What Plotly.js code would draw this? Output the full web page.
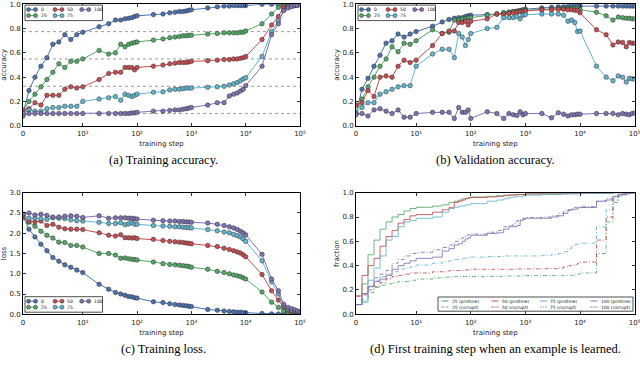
<!DOCTYPE html>
<html><head><meta charset="utf-8">
<script src="https://cdn.plot.ly/plotly-3.0.1.min.js"></script>
<style>html,body{margin:0;padding:0;background:#fff}#chart{width:640px;height:368px}</style>
</head><body><div id="chart"></div>
<script>
// ---------- data ----------
const steps = [0,1,2,3,4,5,6,7,8,9,10,20,30,40,50,60,70,80,90,100,200,300,400,500,600,700,800,900,1000,2000,3000,4000,5000,6000,7000,8000,9000,10000,20000,30000,40000,50000,60000,70000,80000,90000,100000];
const seriesNames = ['0','25','50','75','100'];
const seriesColors = ['#4C72B0','#55A868','#C44E52','#64B5CD','#8172B2'];

// (a) training accuracy
const trainAcc0   = [0.10,0.29,0.40,0.49,0.56,0.67,0.69,0.75,0.71,0.75,0.77, 0.815,0.84,0.87,0.87,0.88,0.885,0.89,0.90,0.905, 0.915,0.92,0.93,0.935,0.94,0.94,0.945,0.95,0.955, 0.97,0.98,0.985,0.985,0.99,0.99,0.99,0.99,0.99, 1.0,1.0,1.0,1.0,1.0,1.0,1.0,1.0,1.0];
const trainAcc25  = [0.12,0.20,0.26,0.32,0.38,0.44,0.51,0.48,0.53,0.53,0.55, 0.62,0.59,0.60,0.67,0.65,0.67,0.68,0.685,0.69, 0.705,0.715,0.725,0.73,0.735,0.74,0.74,0.745,0.745, 0.755,0.76,0.765,0.765,0.765,0.765,0.77,0.77,0.78, 0.84,0.92,0.975,0.985,0.99,0.99,0.995,0.995,1.0];
const trainAcc50  = [0.13,0.14,0.19,0.17,0.25,0.25,0.25,0.30,0.32,0.31,0.32, 0.38,0.43,0.44,0.44,0.48,0.48,0.48,0.46,0.48, 0.49,0.50,0.51,0.515,0.52,0.52,0.52,0.525,0.53, 0.535,0.54,0.545,0.545,0.55,0.55,0.555,0.56,0.57, 0.71,0.83,0.90,0.975,0.98,0.99,0.99,1.0,1.0];
const trainAcc75  = [0.10,0.13,0.12,0.12,0.14,0.15,0.15,0.16,0.16,0.16,0.20, 0.22,0.23,0.24,0.21,0.26,0.25,0.24,0.25,0.26, 0.275,0.28,0.295,0.30,0.30,0.305,0.31,0.31,0.31, 0.316,0.32,0.325,0.335,0.345,0.355,0.37,0.385,0.395, 0.57,0.775,0.865,0.95,0.98,0.99,0.99,1.0,1.0];
const trainAcc100 = [0.08,0.10,0.10,0.10,0.10,0.10,0.10,0.10,0.10,0.10,0.10, 0.10,0.10,0.10,0.10,0.10,0.10,0.105,0.105,0.11, 0.12,0.12,0.125,0.13,0.13,0.135,0.14,0.145,0.15, 0.17,0.19,0.19,0.245,0.26,0.27,0.285,0.30,0.33, 0.49,0.75,0.84,0.95,0.97,0.98,0.99,0.99,1.0];
const cleanAccLevels = [0.775,0.55,0.325,0.1];

// (b) validation accuracy
const valAcc0   = [0.10,0.30,0.39,0.49,0.58,0.68,0.70,0.755,0.73,0.755,0.775, 0.82,0.855,0.875,0.885,0.89,0.89,0.90,0.905,0.91, 0.915,0.92,0.93,0.935,0.94,0.945,0.95,0.955,0.96, 0.97,0.975,0.98,0.98,0.985,0.985,0.985,0.985,0.985, 0.985,0.985,0.985,0.985,0.985,0.985,0.985,0.985,0.985];
const valAcc25  = [0.10,0.22,0.32,0.40,0.49,0.55,0.65,0.61,0.68,0.67,0.70, 0.79,0.76,0.77,0.87,0.87,0.88,0.88,0.89,0.89, 0.91,0.92,0.93,0.935,0.94,0.94,0.945,0.95,0.95, 0.96,0.96,0.965,0.965,0.965,0.965,0.965,0.965,0.955, 0.935,0.905,0.87,0.895,0.89,0.885,0.885,0.88,0.88];
const valAcc50  = [0.17,0.19,0.29,0.24,0.40,0.41,0.40,0.49,0.54,0.52,0.54, 0.66,0.76,0.78,0.78,0.85,0.85,0.86,0.83,0.86, 0.88,0.92,0.915,0.925,0.93,0.935,0.94,0.94,0.945, 0.955,0.955,0.96,0.96,0.955,0.955,0.95,0.95,0.93, 0.79,0.75,0.665,0.69,0.685,0.65,0.685,0.68,0.68];
const valAcc75  = [0.10,0.15,0.19,0.19,0.26,0.28,0.30,0.32,0.33,0.33,0.49, 0.59,0.63,0.63,0.56,0.76,0.73,0.66,0.71,0.76, 0.80,0.81,0.89,0.89,0.89,0.90,0.88,0.91,0.915, 0.92,0.92,0.92,0.91,0.86,0.87,0.85,0.775,0.78, 0.49,0.40,0.37,0.41,0.40,0.36,0.39,0.385,0.385];
const valAcc100 = [0.09,0.10,0.08,0.13,0.14,0.12,0.10,0.13,0.07,0.07,0.10, 0.11,0.11,0.11,0.06,0.15,0.11,0.11,0.13,0.06, 0.115,0.10,0.06,0.10,0.09,0.085,0.115,0.09,0.10, 0.10,0.065,0.107,0.095,0.08,0.09,0.09,0.095,0.095, 0.10,0.10,0.10,0.09,0.10,0.095,0.09,0.10,0.105];

// (c) training loss
const loss0   = [2.42,2.10,1.91,1.73,1.57,1.40,1.31,1.22,1.16,1.09,1.03, 0.74,0.62,0.54,0.50,0.47,0.44,0.43,0.41,0.40, 0.31,0.29,0.26,0.24,0.23,0.22,0.21,0.20,0.19, 0.12,0.10,0.08,0.07,0.06,0.05,0.05,0.04,0.04, 0.02,0.01,0.01,0.01,0.01,0.01,0.01,0.01,0.01];
const loss25  = [2.40,2.27,2.17,2.05,1.95,1.88,1.78,1.77,1.70,1.70,1.66, 1.50,1.50,1.46,1.38,1.39,1.37,1.36,1.35,1.34, 1.29,1.25,1.23,1.22,1.21,1.20,1.19,1.18,1.16, 1.11,1.06,1.03,1.00,0.97,0.95,0.93,0.90,0.87, 0.55,0.30,0.17,0.08,0.05,0.04,0.03,0.03,0.02];
const loss50  = [2.38,2.30,2.28,2.30,2.19,2.22,2.15,2.11,2.10,2.10,2.09, 2.01,1.95,1.93,1.96,1.89,1.89,1.88,1.89,1.87, 1.85,1.82,1.80,1.79,1.78,1.77,1.76,1.75,1.74, 1.70,1.67,1.63,1.60,1.57,1.54,1.51,1.47,1.42, 0.98,0.58,0.35,0.18,0.10,0.08,0.06,0.05,0.04];
const loss75  = [2.45,2.37,2.37,2.36,2.34,2.38,2.37,2.36,2.33,2.31,2.30, 2.27,2.24,2.24,2.26,2.21,2.23,2.26,2.22,2.22, 2.19,2.18,2.17,2.16,2.16,2.15,2.14,2.14,2.13, 2.09,2.06,2.03,2.01,1.97,1.94,1.91,1.86,1.80, 1.32,0.80,0.50,0.22,0.13,0.10,0.08,0.07,0.06];
const loss100 = [2.47,2.50,2.45,2.47,2.44,2.40,2.40,2.42,2.43,2.42,2.39, 2.43,2.37,2.38,2.38,2.38,2.37,2.37,2.36,2.35, 2.32,2.31,2.30,2.30,2.29,2.29,2.28,2.28,2.27, 2.25,2.22,2.19,2.16,2.13,2.09,2.05,2.01,1.96, 1.48,0.87,0.58,0.25,0.17,0.14,0.11,0.08,0.06];

// (d) fraction of examples learned by step
const fracNames = ['25','50','75','100'];
const fracColors = ['#55A868','#C44E52','#64B5CD','#8172B2'];
const frac25Pristine  = [0.08,0.25,0.49,0.61,0.70,0.76,0.80,0.82,0.85,0.87,0.88, 0.89,0.90,0.92,0.93,0.94,0.95,0.955,0.96,0.965, 0.97,0.975,0.98,0.98,0.985,0.985,0.985,0.985,0.99, 0.99,0.99,0.99,0.99,0.995,0.995,0.995,0.995,0.995, 0.995,0.995,1.0,1.0,1.0,1.0,1.0,1.0,1.0];
const frac50Pristine  = [0.15,0.32,0.40,0.46,0.56,0.64,0.69,0.75,0.78,0.81,0.82, 0.84,0.86,0.88,0.92,0.93,0.94,0.95,0.955,0.96, 0.965,0.97,0.975,0.98,0.98,0.985,0.985,0.985,0.99, 0.99,0.99,0.99,0.995,0.995,0.995,0.995,0.995,0.995, 0.995,1.0,1.0,1.0,1.0,1.0,1.0,1.0,1.0];
const frac75Pristine  = [0.08,0.10,0.28,0.38,0.48,0.61,0.64,0.72,0.76,0.77,0.79, 0.80,0.84,0.87,0.88,0.89,0.89,0.90,0.90,0.91, 0.93,0.94,0.95,0.96,0.965,0.97,0.97,0.975,0.98, 0.985,0.985,0.99,0.99,0.99,0.99,0.99,0.99,0.995, 0.995,0.995,1.0,1.0,1.0,1.0,1.0,1.0,1.0];
const frac100Pristine = [0.08,0.17,0.23,0.27,0.29,0.32,0.37,0.40,0.42,0.44,0.46, 0.47,0.52,0.54,0.57,0.58,0.60,0.62,0.63,0.65, 0.665,0.67,0.70,0.72,0.72,0.73,0.77,0.78,0.79, 0.79,0.80,0.81,0.83,0.855,0.86,0.865,0.875,0.878, 0.93,0.94,0.97,0.985,0.99,0.99,0.995,1.0,1.0];
const frac25Corrupt   = [0.08,0.12,0.18,0.22,0.24,0.25,0.26,0.27,0.27,0.28,0.29, 0.30,0.305,0.305,0.31,0.31,0.31,0.31,0.31,0.31, 0.312,0.312,0.315,0.315,0.315,0.315,0.315,0.315,0.318, 0.318,0.318,0.32,0.32,0.32,0.32,0.325,0.33,0.34, 0.50,0.76,0.92,0.97,0.98,0.99,0.99,1.0,1.0];
const frac50Corrupt   = [0.15,0.16,0.20,0.23,0.26,0.29,0.31,0.32,0.33,0.34,0.34, 0.35,0.35,0.36,0.36,0.36,0.36,0.365,0.365,0.37, 0.37,0.37,0.37,0.37,0.37,0.373,0.373,0.373,0.373, 0.375,0.375,0.38,0.39,0.40,0.405,0.41,0.42,0.43, 0.61,0.80,0.94,0.98,0.99,1.0,1.0,1.0,1.0];
const frac75Corrupt   = [0.08,0.10,0.22,0.28,0.31,0.33,0.35,0.37,0.38,0.39,0.405, 0.42,0.43,0.44,0.45,0.45,0.46,0.46,0.47,0.47, 0.475,0.475,0.48,0.48,0.48,0.48,0.48,0.48,0.48, 0.485,0.49,0.50,0.515,0.54,0.56,0.575,0.58,0.585, 0.72,0.86,0.96,0.98,0.99,1.0,1.0,1.0,1.0];
const frac100Corrupt  = [0.08,0.17,0.23,0.30,0.33,0.36,0.42,0.45,0.48,0.50,0.51, 0.53,0.55,0.57,0.60,0.62,0.63,0.65,0.655,0.66, 0.675,0.69,0.72,0.73,0.75,0.77,0.78,0.79,0.795, 0.80,0.81,0.83,0.85,0.86,0.87,0.88,0.88,0.885, 0.93,0.95,0.97,0.98,0.99,1.0,1.0,1.0,1.0];

const xTickSteps = [0,10,100,1000,10000,100000];
const xTickText = ['0','10¹','10²','10³','10⁴','10⁵'];

// ---------- symlog scale (linear 0..10, log above) ----------
const LIN = 1.1;
function symlog(v){ return v <= 10 ? v / 10 * LIN : LIN + Math.log10(v / 10); }
const X = steps.map(symlog);

// ---------- helpers ----------
const W = 640, H = 368;
const fx = p => p / W, fy = p => 1 - p / H;
const FONT = 'DejaVu Sans';

const traces = [];
function addPanel(list, xa, ya) {
  list.forEach((ys, i) => {
    traces.push({
      x: X, y: ys, xaxis: xa, yaxis: ya, type: 'scatter', mode: 'lines+markers',
      showlegend: false, hoverinfo: 'skip',
      line: {color: seriesColors[i], width: 1},
      marker: {color: seriesColors[i], size: 4.5, line: {color: '#2a2a2a', width: 0.5}}
    });
  });
}
addPanel([trainAcc0, trainAcc25, trainAcc50, trainAcc75, trainAcc100], 'x', 'y');
addPanel([valAcc0, valAcc25, valAcc50, valAcc75, valAcc100], 'x2', 'y2');
addPanel([loss0, loss25, loss50, loss75, loss100], 'x3', 'y3');

const pristine = [frac25Pristine, frac50Pristine, frac75Pristine, frac100Pristine];
const corrupt = [frac25Corrupt, frac50Corrupt, frac75Corrupt, frac100Corrupt];
const DASHDOT = '4px,2px,1px,2px';
fracNames.forEach((n, i) => {
  traces.push({x: X, y: pristine[i], xaxis: 'x4', yaxis: 'y4', type: 'scatter', mode: 'lines',
    showlegend: false, hoverinfo: 'skip', opacity: 0.85,
    line: {color: fracColors[i], width: 1, shape: 'hv'}});
  traces.push({x: X, y: corrupt[i], xaxis: 'x4', yaxis: 'y4', type: 'scatter', mode: 'lines',
    showlegend: false, hoverinfo: 'skip', opacity: 0.85,
    line: {color: fracColors[i], width: 1, shape: 'hv', dash: DASHDOT}});
});

// ---------- axes ----------
const axBase = {
  showline: true, linecolor: '#000', linewidth: 1, mirror: 'ticks',
  ticks: 'inside', ticklen: 3, tickwidth: 0.8, tickcolor: '#000',
  showgrid: false, zeroline: false, fixedrange: true,
  ticklabeloverflow: 'allow',
  tickfont: {family: FONT, size: 7, color: '#222'}
};
function xAxis(left, right, anchor) {
  return Object.assign({}, axBase, {
    domain: [fx(left), fx(right)], anchor: anchor,
    range: [0, symlog(100000)], tickmode: 'array',
    tickvals: xTickSteps.map(symlog), ticktext: xTickText,
    ticklabelstandoff: 1,
    title: {text: 'training step', font: {family: FONT, size: 7, color: '#222'}, standoff: 4}
  });
}
function yAxis(top, bottom, anchor, range, dtick, title) {
  return Object.assign({}, axBase, {
    domain: [fy(bottom), fy(top)], anchor: anchor, range: range, dtick: dtick,
    tickformat: '.1f',
    title: {text: title, font: {family: FONT, size: 7, color: '#222'}, standoff: 2}
  });
}

const L1 = 23, R1 = 300, L2 = 356, R2 = 634.7;
const T1 = 4.3, B1 = 125.7, T2 = 192.7, B2 = 314.3;

// ---------- shapes / annotations ----------
const shapes = [];
const annotations = [];
cleanAccLevels.forEach(v => shapes.push({
  type: 'line', xref: 'x domain', yref: 'y', x0: 0, x1: 1, y0: v, y1: v, layer: 'below',
  line: {color: '#9a9a9a', width: 1, dash: '3px,3px'}
}));

function box(l, t, w, h) {
  shapes.push({type: 'rect', xref: 'paper', yref: 'paper', x0: fx(l), x1: fx(l + w), y0: fy(t + h), y1: fy(t),
    fillcolor: '#fff', line: {color: '#222', width: 0.8}, layer: 'above'});
}
function hline(x0, x1, y, color, dash) {
  shapes.push({type: 'line', xref: 'paper', yref: 'paper', x0: fx(x0), x1: fx(x1), y0: fy(y), y1: fy(y),
    line: {color: color, width: 1, dash: dash || 'solid'}, layer: 'above'});
}
function dot(x, y, color) {
  shapes.push({type: 'circle', xref: 'paper', yref: 'paper', xsizemode: 'pixel', ysizemode: 'pixel',
    xanchor: fx(x), yanchor: fy(y), x0: -2, x1: 2, y0: -2, y1: 2,
    fillcolor: color, line: {color: '#2a2a2a', width: 0.5}, layer: 'above'});
}
function label(x, y, text, size) {
  annotations.push({xref: 'paper', yref: 'paper', x: fx(x), y: fy(y), xanchor: 'left', yanchor: 'middle',
    text: text, showarrow: false, borderpad: 0, font: {family: FONT, size: size, color: '#222'}});
}
// marker legends (matplotlib ncol=3 column-major)
function markerLegend(left, top) {
  box(left, top, 77.5, 15.5);
  const colX = [left + 0.5, left + 27, left + 53.7];
  const rowY = [top + 4.5, top + 10.5];
  seriesNames.forEach((n, i) => {
    const cx = colX[Math.floor(i / 2)], cy = rowY[i % 2];
    hline(cx + 3, cx + 10, cy, seriesColors[i]);
    dot(cx + 3, cy, seriesColors[i]);
    dot(cx + 10, cy, seriesColors[i]);
    label(cx + 14, cy, n, 4.6);
  });
}
markerLegend(L1 + 2, T1 + 0.8);
markerLegend(L2 + 2, T1 + 0.8);
markerLegend(L1 + 2, T2 + 104);

// fraction legend
box(438, 297, 195, 14.2);
fracNames.forEach((n, i) => {
  const cx = [441.5, 491.5, 540, 590.5][i];
  hline(cx, cx + 7, 301, fracColors[i]);
  label(cx + 9, 301, n + ' (pristine)', 4.4);
  hline(cx, cx + 7, 307, fracColors[i], '2px,1px,1px,1px');
  label(cx + 9, 307, n + ' (corrupt)', 4.4);
});

// captions
const CAP = {family: 'Liberation Serif, Times New Roman, serif', size: 12.5, color: '#000'};
[['(a) Training accuracy.', 163, 160], ['(b) Validation accuracy.', 495, 160],
 ['(c) Training loss.', 163, 349], ['(d) First training step when an example is learned.', 495, 349]]
 .forEach(c => annotations.push({xref: 'paper', yref: 'paper', x: fx(c[1]), y: fy(c[2]),
   xanchor: 'center', yanchor: 'middle', text: c[0], showarrow: false, font: CAP}));

const layout = {
  width: W, height: H, margin: {l: 0, r: 0, t: 0, b: 0},
  paper_bgcolor: '#fff', plot_bgcolor: '#fff', showlegend: false,
  xaxis: xAxis(L1, R1, 'y'), yaxis: yAxis(T1, B1, 'x', [0, 1], 0.2, 'accuracy'),
  xaxis2: xAxis(L2, R2, 'y2'), yaxis2: yAxis(T1, B1, 'x2', [0, 1], 0.2, 'accuracy'),
  xaxis3: xAxis(L1, R1, 'y3'), yaxis3: yAxis(T2, B2, 'x3', [0, 3], 0.5, 'loss'),
  xaxis4: xAxis(L2, R2, 'y4'), yaxis4: yAxis(T2, B2, 'x4', [0, 1], 0.2, 'fraction'),
  shapes: shapes, annotations: annotations
};
Plotly.newPlot('chart', traces, layout, {displayModeBar: false, staticPlot: true});
</script>
</body></html>
